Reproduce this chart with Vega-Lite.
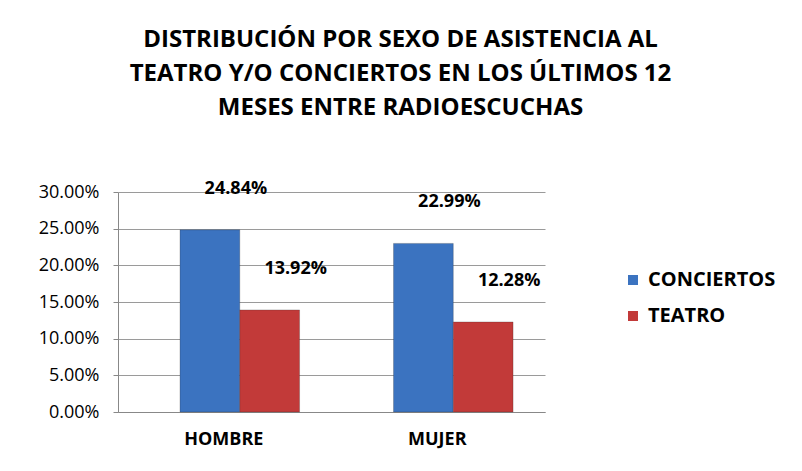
{
  "$schema": "https://vega.github.io/schema/vega-lite/v6.json",
  "autosize": "none",
  "width": 427,
  "height": 220,
  "padding": {"left": 118, "top": 192, "right": 257, "bottom": 59},
  "background": "white",
  "title": {
    "text": ["DISTRIBUCIÓN POR SEXO DE ASISTENCIA AL", "TEATRO Y/O CONCIERTOS EN LOS ÚLTIMOS 12", "MESES ENTRE RADIOESCUCHAS"],
    "font": "Open Sans",
    "fontSize": 24,
    "fontWeight": "bold",
    "color": "#000000",
    "lineHeight": 34,
    "anchor": "middle",
    "dx": 69,
    "offset": 60
  },
  "data": {
    "values": [
      {"sexo": "HOMBRE", "tipo": "CONCIERTOS", "valor": 0.2484},
      {"sexo": "HOMBRE", "tipo": "TEATRO", "valor": 0.1392},
      {"sexo": "MUJER", "tipo": "CONCIERTOS", "valor": 0.2299},
      {"sexo": "MUJER", "tipo": "TEATRO", "valor": 0.1228}
    ]
  },
  "encoding": {
    "x": {
      "field": "sexo",
      "type": "nominal",
      "title": null,
      "scale": {"paddingInner": 0.44, "paddingOuter": 0.22, "align": 0.66},
      "axis": {
        "labelAngle": 0,
        "labelFont": "Open Sans",
        "labelFontSize": 18,
        "labelFontWeight": "bold",
        "labelColor": "#000000",
        "labelPadding": 18,
        "labelOffset": -16,
        "domainColor": "#888888",
        "ticks": false
      }
    },
    "xOffset": {"field": "tipo", "sort": ["CONCIERTOS", "TEATRO"]},
    "y": {
      "field": "valor",
      "type": "quantitative",
      "title": null,
      "scale": {"domain": [0, 0.3]},
      "axis": {
        "values": [0, 0.05, 0.1, 0.15, 0.2, 0.25, 0.3],
        "format": ".2%",
        "labelFont": "Open Sans",
        "labelFontSize": 18,
        "labelColor": "#000000",
        "labelPadding": 14,
        "domainColor": "#888888",
        "tickColor": "#888888",
        "tickSize": 5,
        "gridColor": "#9a9a9a",
        "grid": true
      }
    }
  },
  "layer": [
    {
      "mark": {"type": "bar", "stroke": "#2a2a2a", "strokeOpacity": 0.25, "strokeWidth": 1},
      "encoding": {
        "color": {
          "field": "tipo",
          "type": "nominal",
          "sort": ["CONCIERTOS", "TEATRO"],
          "scale": {"range": ["#3B73C0", "#C23A39"]},
          "legend": {
            "title": null,
            "orient": "none",
            "legendX": 505,
            "legendY": 78,
            "symbolType": "square",
            "symbolSize": 100,
            "symbolStrokeWidth": 0,
            "labelFont": "Open Sans",
            "labelFontSize": 20,
            "labelFontWeight": "bold",
            "labelColor": "#000000",
            "rowPadding": 16,
            "labelOffset": 5
          }
        }
      }
    },
    {
      "mark": {
        "type": "text",
        "baseline": "bottom",
        "dy": -32,
        "dx": 26,
        "font": "Open Sans",
        "fontSize": 18,
        "fontWeight": "bold",
        "color": "#000000"
      },
      "encoding": {
        "text": {"field": "valor", "type": "quantitative", "format": ".2%"}
      }
    }
  ],
  "config": {
    "view": {"stroke": null}
  }
}
